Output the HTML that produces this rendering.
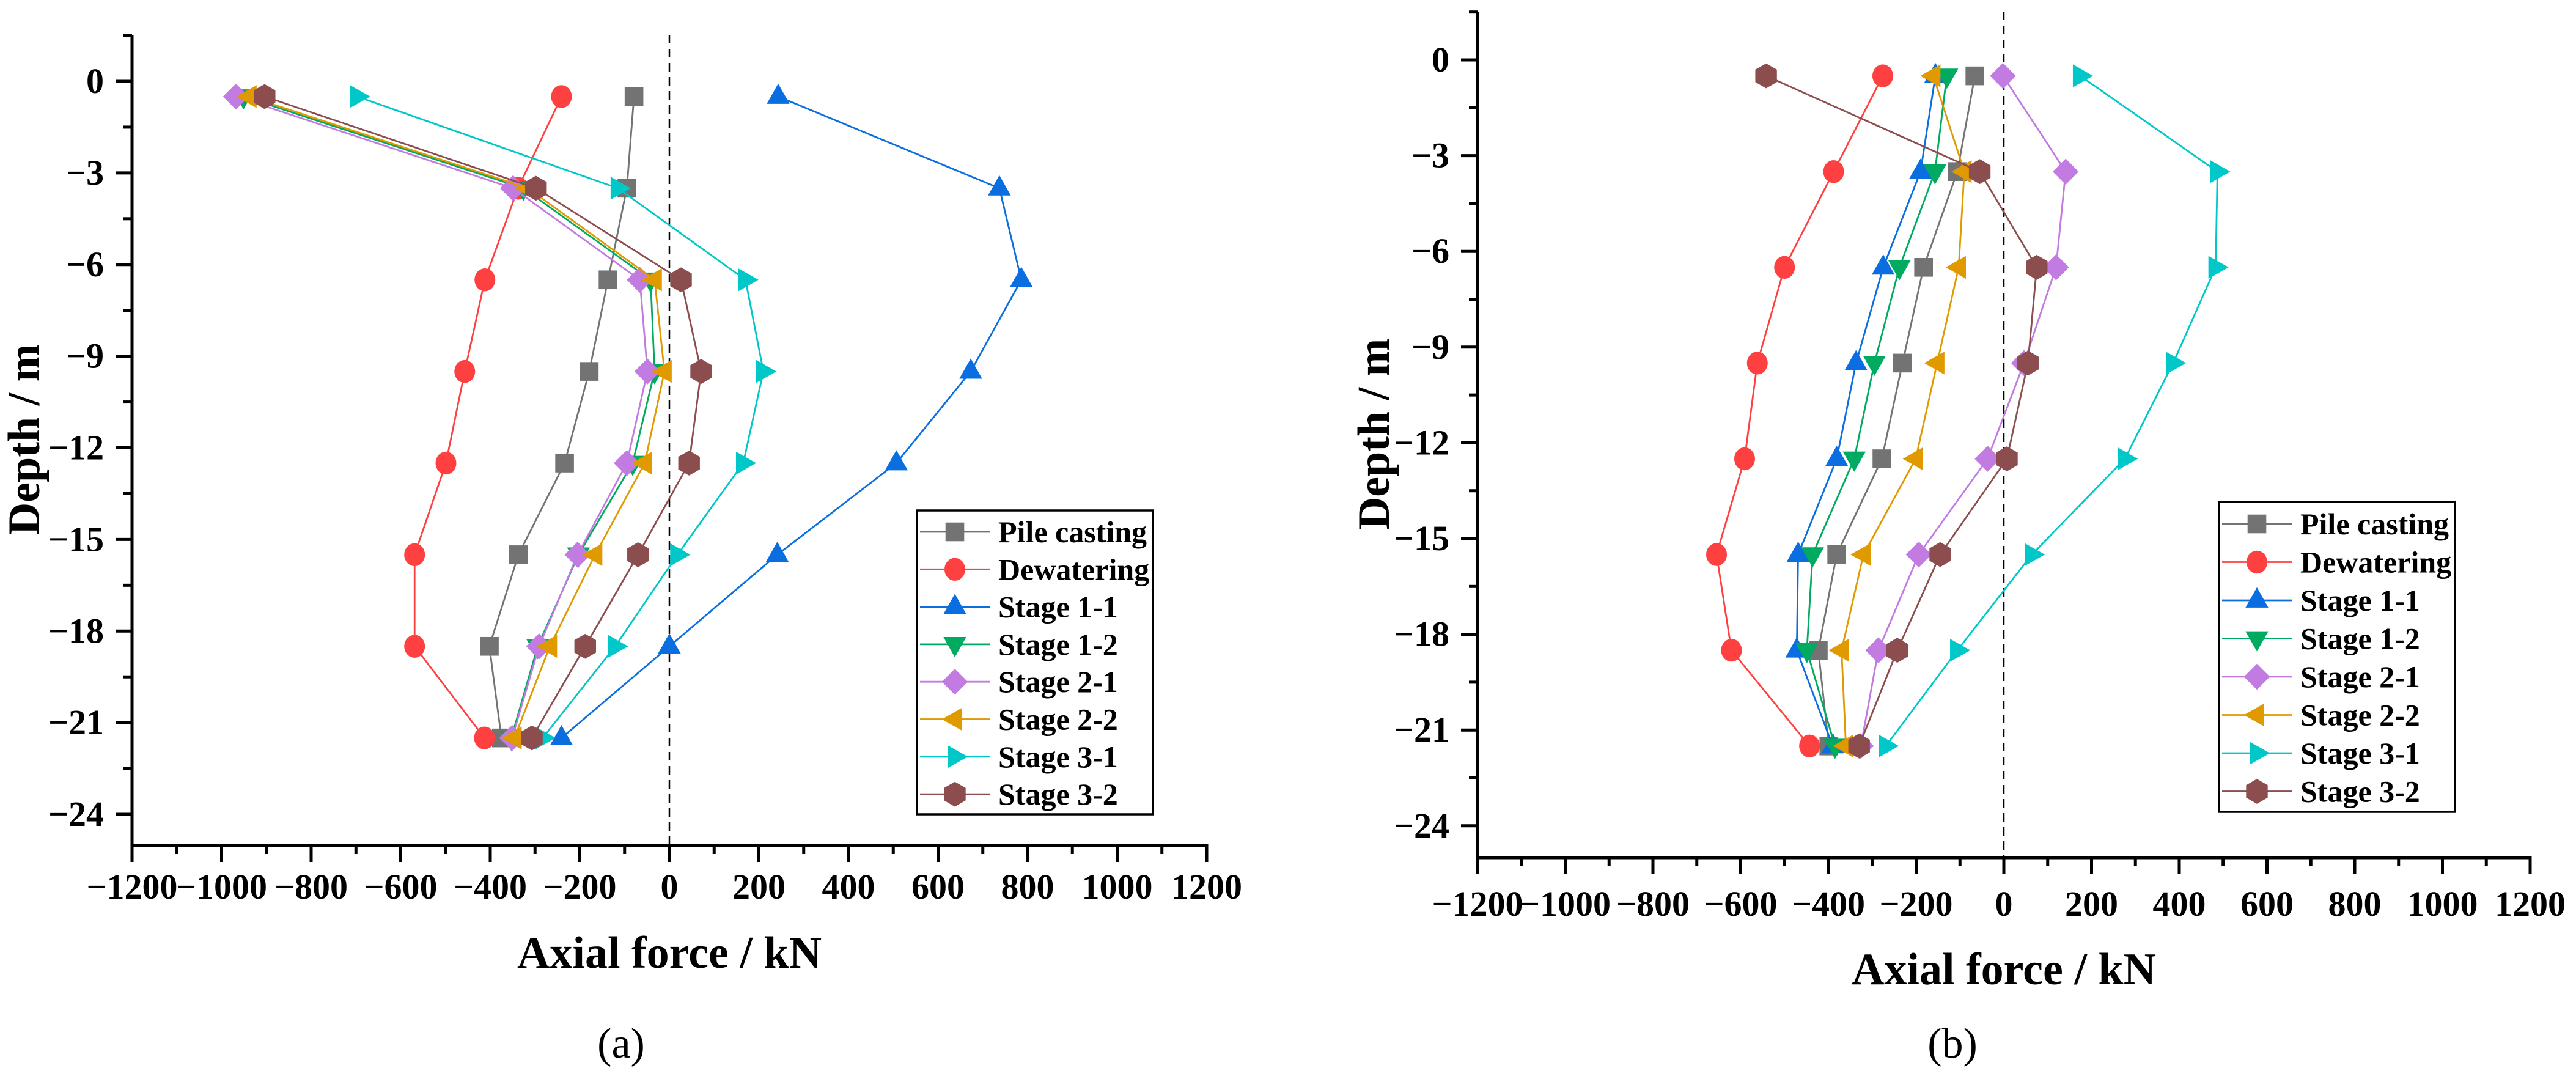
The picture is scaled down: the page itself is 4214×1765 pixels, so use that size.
<!DOCTYPE html>
<html><head><meta charset="utf-8"><style>
html,body{margin:0;padding:0;background:#fff;}
svg, svg text{font-family:"Liberation Serif","Times New Roman","DejaVu Serif",serif;}
</style></head><body>
<svg id="fig" width="4214" height="1760" viewBox="0 0 4214 1760" xmlns="http://www.w3.org/2000/svg" font-family="Liberation Serif, serif">
<rect width="4214" height="1760" fill="#fff"/>
</svg>
<script>
const seriesNames = ["Pile casting","Dewatering","Stage 1-1","Stage 1-2","Stage 2-1","Stage 2-2","Stage 3-1","Stage 3-2"];
const seriesColors = ["#737373","#ff4040","#0a6ee0","#00aa60","#c27be0","#e09a00","#00c8c8","#8b4d4d"];
const seriesMarkers = ["square","circle","up","down","diamond","left","right","hex"];
const depths = [-0.5,-3.5,-6.5,-9.5,-12.5,-15.5,-18.5,-21.5];
const xTicks = [-1200,-1000,-800,-600,-400,-200,0,200,400,600,800,1000,1200];
const yTicks = [0,-3,-6,-9,-12,-15,-18,-21,-24];
// Panel (a)
const aPile = [-79,-95,-137,-179,-234,-337,-402,-375];
const aDewater = [-241,-338,-412,-457,-499,-569,-569,-413];
const aS11 = [243,737,786,673,507,241,0,-241];
const aS12 = [-951,-326,-42,-33,-82,-203,-294,-353];
const aS21 = [-968,-349,-66,-49,-95,-205,-291,-351];
const aS22 = [-938,-316,-33,-11,-55,-166,-267,-346];
const aS31 = [-697,-115,170,210,165,18,-121,-283];
const aS32 = [-904,-298,26,71,44,-70,-188,-307];
// Panel (b)
const bPile = [-66,-106,-183,-231,-278,-381,-423,-399];
const bDewater = [-276,-388,-500,-562,-591,-655,-621,-443];
const bS11 = [-156,-190,-275,-337,-381,-469,-472,-390];
const bS12 = [-130,-157,-238,-295,-341,-436,-449,-385];
const bS21 = [-2,141,119,46,-37,-194,-286,-326];
const bS22 = [-161,-90,-103,-152,-201,-320,-370,-360];
const bS31 = [174,487,483,386,276,64,-106,-269];
const bS32 = [-542,-55,75,55,7,-145,-243,-330];

const NS="http://www.w3.org/2000/svg";
const FONT='"Liberation Serif", "Times New Roman", serif';
const svg=document.getElementById('fig');
function mk(tag,attrs,parent){const e=document.createElementNS(NS,tag);for(const k in attrs)e.setAttribute(k,attrs[k]);if(tag==='text')e.style.fontFamily=FONT;(parent||svg).appendChild(e);return e;}

function marker(g,type,cx,cy,color,r){
  let e;
  if(type==="square"){e=mk('rect',{x:cx-r*0.9,y:cy-r*0.9,width:r*1.8,height:r*1.8,fill:color},g);}
  else if(type==="circle"){e=mk('ellipse',{cx:cx,cy:cy,rx:r,ry:r*1.1,fill:color},g);}
  else{
    let pts;
    if(type==="up")pts=[[0,-1.25],[1.1,0.7],[-1.1,0.7]];
    else if(type==="down")pts=[[0,1.25],[1.1,-0.7],[-1.1,-0.7]];
    else if(type==="left")pts=[[-1.25,0],[0.7,-1.1],[0.7,1.1]];
    else if(type==="right")pts=[[1.25,0],[-0.7,-1.1],[-0.7,1.1]];
    else if(type==="diamond")pts=[[0,-1.25],[1.25,0],[0,1.25],[-1.25,0]];
    else pts=[[0,-1.2],[1.04,-0.6],[1.04,0.6],[0,1.2],[-1.04,0.6],[-1.04,-0.6]];
    e=mk('polygon',{points:pts.map(p=>(cx+p[0]*r)+','+(cy+p[1]*r)).join(' '),fill:color},g);
  }
  return e;
}

function drawPanel(cfg){
  const g=mk('g',{});
  
  
  const X=v=>cfg.x0+(v-(-1200))*(cfg.x1-cfg.x0)/2400;
  const Y=v=>cfg.y0+(0-v)*cfg.ppm;
  const top=cfg.top, bot=cfg.bottom;
  const z=mk('line',{x1:X(0),y1:top,x2:X(0),y2:bot,stroke:'#000','stroke-width':2.5,'stroke-dasharray':'14,9'},g);
  
  
  const data=cfg.data;
  for(let s=0;s<data.length;s++){
    const sg=mk('g',{},g);
    
    
    const pts=data[s].map((v,i)=>X(v)+','+Y(depths[i])).join(' ');
    mk('polyline',{points:pts,fill:'none',stroke:seriesColors[s],'stroke-width':2.8},sg);
    data[s].forEach((v,i)=>{
      const m=marker(sg,seriesMarkers[s],X(v),Y(depths[i]),seriesColors[s],17);
      
      
    });
  }
  const ax=mk('g',{},g);
  
  
  mk('line',{x1:cfg.x0,y1:top,x2:cfg.x0,y2:bot+2.5,stroke:'#000','stroke-width':5},ax);
  mk('line',{x1:cfg.x0-2.5,y1:bot,x2:X(1200)+2.5,y2:bot,stroke:'#000','stroke-width':5},ax);
  for(let v=-1200;v<=1200;v+=100){
    const maj=(v%200===0);
    mk('line',{x1:X(v),y1:bot,x2:X(v),y2:bot+(maj?27:14),stroke:'#000','stroke-width':5},ax);
  }
  xTicks.forEach(v=>{
    const t=mk('text',{x:X(v),y:cfg.xLabelY,'text-anchor':'middle','font-size':58,'font-weight':'bold'},ax);
    t.textContent=(v<0?'\u2212'+(-v):''+v);
    
    
  });
  for(let v=1.5;v>=-25;v-=1.5){
    const maj=(Math.abs(v%3)<1e-6);
    const y=Y(v); if(y<top||y>bot)continue;
    mk('line',{x1:cfg.x0,y1:y,x2:cfg.x0-(maj?27:14),y2:y,stroke:'#000','stroke-width':5},ax);
  }
  yTicks.forEach(v=>{
    const t=mk('text',{x:cfg.x0-46,y:Y(v)+19,'text-anchor':'end','font-size':58,'font-weight':'bold'},ax);
    t.textContent=(v<0?'\u2212'+(-v):''+v);
    
    
  });
  const xt=mk('text',{x:X(0),y:cfg.xTitleY,'text-anchor':'middle','font-size':74,'font-weight':'bold'},g);
  xt.textContent='Axial force / kN';
  
  
  const yt=mk('text',{x:0,y:0,'text-anchor':'middle','font-size':74,'font-weight':'bold',transform:'translate('+(cfg.yTitleX)+','+cfg.yTitleY+') rotate(-90)'},g);
  yt.textContent='Depth / m';
  
  
  const cap=mk('text',{x:cfg.capX,y:1730,'text-anchor':'middle','font-size':70},g);
  cap.textContent=cfg.caption;
  
  
  const lg=mk('g',{},g);
  
  
  mk('rect',{x:cfg.legX,y:cfg.legTop,width:386,height:cfg.legBot-cfg.legTop,fill:'#fff',stroke:'#000','stroke-width':3.5},lg);
  seriesNames.forEach((n,i)=>{
    const y=cfg.legRow0+i*cfg.legStep;
    const eg=mk('g',{},lg);
    
    
    mk('line',{x1:cfg.legX+5,y1:y,x2:cfg.legX+119,y2:y,stroke:seriesColors[i],'stroke-width':2.8},eg);
    marker(eg,seriesMarkers[i],cfg.legX+62,y,seriesColors[i],17);
    const t=mk('text',{x:cfg.legX+133,y:y+17,'font-size':50,'font-weight':'bold'},eg);
    t.textContent=n;
  });
}

drawPanel({name:'chart-a',x0:216,x1:1974,y0:133,ppm:49.96,top:57,bottom:1383,xLabelY:1470,xTitleY:1583,
  yTitleX:64,yTitleY:719,capX:1016,caption:'(a)',legX:1500,legTop:835,legBot:1332,legRow0:870,legStep:61.3,
  data:[aPile,aDewater,aS11,aS12,aS21,aS22,aS31,aS32]});
drawPanel({name:'chart-b',x0:2417,x1:4139,y0:98,ppm:52.2,top:19,bottom:1403,xLabelY:1498,xTitleY:1610,
  yTitleX:2272,yTitleY:710,capX:3194,caption:'(b)',legX:3630,legTop:821,legBot:1328,legRow0:857,legStep:62.5,
  data:[bPile,bDewater,bS11,bS12,bS21,bS22,bS31,bS32]});
</script>
</body></html>
